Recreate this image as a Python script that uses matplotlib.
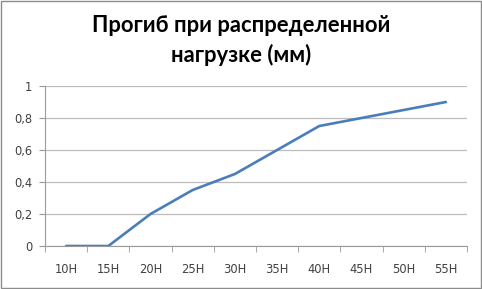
import matplotlib.pyplot as plt
import numpy as np
from matplotlib.patches import Rectangle

categories = ["10H", "15H", "20H", "25H", "30H", "35H", "40H", "45H", "50H", "55H"]
deflection = [0, 0, 0.2, 0.35, 0.45, 0.6, 0.75, 0.8, 0.85, 0.9]
y_ticks = [0, 0.2, 0.4, 0.6, 0.8, 1]
y_labels = ["0", "0,2", "0,4", "0,6", "0,8", "1"]

W, H = 482, 289
fig = plt.figure(figsize=(W / 100, H / 100), dpi=100)

# outer chart border
fig.patches.append(Rectangle((0.002, 0.003), 0.995, 0.994, transform=fig.transFigure,
                             fill=False, edgecolor="#8c8c8c", linewidth=1.0))

ax = fig.add_axes([45 / W, 1 - 246 / H, 422 / W, 160 / H])
x = np.arange(len(categories))
ax.plot(x, deflection, color="#4a7ebb", linewidth=1.9, solid_capstyle="round")

ax.set_xlim(-0.5, len(categories) - 0.5)
ax.set_ylim(0, 1)
ax.set_yticks(y_ticks)
ax.set_yticklabels(y_labels)
ax.set_xticks(x)
ax.set_xticklabels(categories)
ax.set_xticks(np.arange(-0.5, len(categories)), minor=True)

ax.grid(axis="y", color="#bcbcbc", linewidth=0.9)
ax.set_axisbelow(True)
for side in ["top", "right"]:
    ax.spines[side].set_visible(False)
ax.spines["left"].set_color("#9a9a9a")
ax.spines["bottom"].set_color("#9a9a9a")

ax.tick_params(axis="y", length=4, color="#9a9a9a", labelsize=8.3, labelcolor="#404040", pad=5)
ax.tick_params(axis="x", which="major", length=0, labelsize=8.3, labelcolor="#404040", pad=12)
ax.tick_params(axis="x", which="minor", length=4, color="#9a9a9a")

fig.text(0.5, 1 - 25 / H, "Прогиб при распределенной", ha="center", va="center",
         fontsize=15.8, fontweight="bold", family="Lato")
fig.text(0.5, 1 - 55 / H, "нагрузке (мм)", ha="center", va="center",
         fontsize=15.8, fontweight="bold", family="Lato")

fig.savefig("out.png", dpi=100)
